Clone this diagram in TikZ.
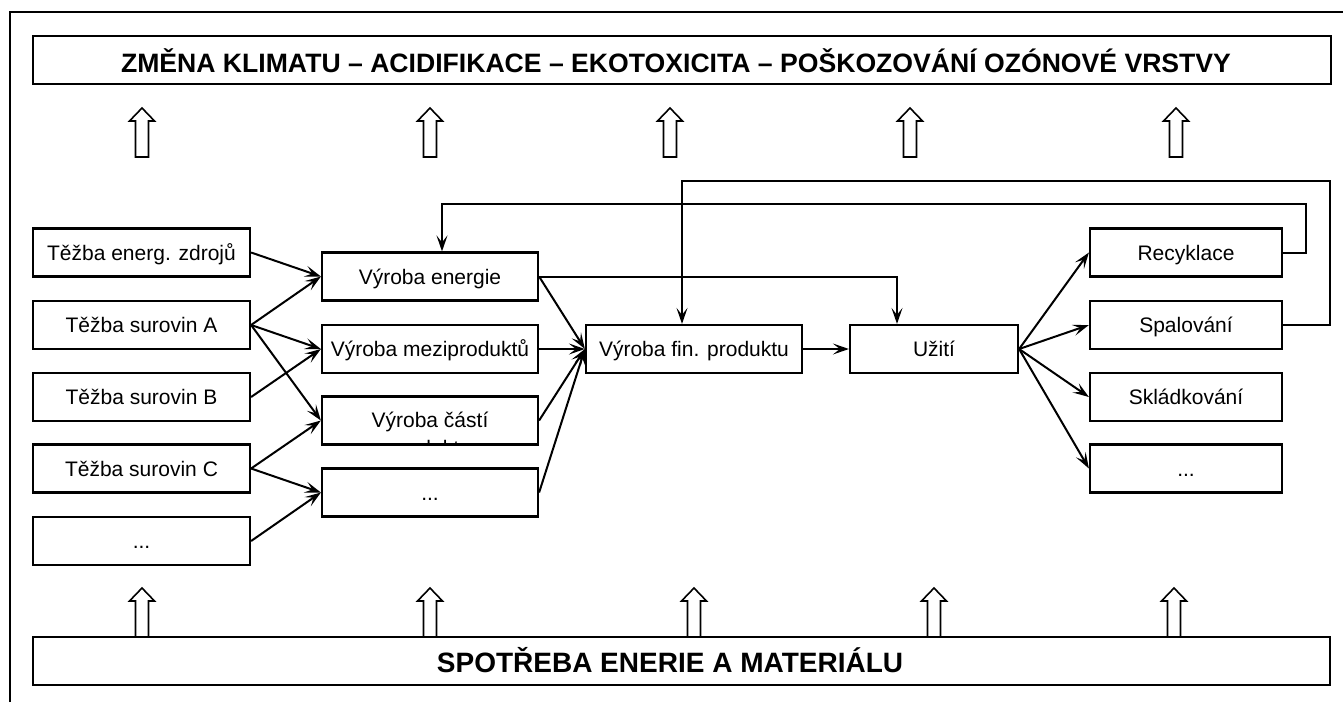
\documentclass[tikz,border=0pt]{standalone}
\usepackage{fontspec}
\setmainfont{Liberation Sans}
\usetikzlibrary{arrows.meta}
\begin{document}
\begin{tikzpicture}[x=1pt,y=-1pt,
  box/.style={draw,line width=2.2pt,minimum height=48pt,inner sep=0pt,text height=15pt,text depth=0pt,font=\fontsize{21}{25}\selectfont},
  lbox/.style={box,minimum width=217pt},
  mbox/.style={box,minimum width=216pt},
  rbox/.style={box,minimum width=192pt},
  bar/.style={draw,line width=2.2pt,minimum height=48pt,minimum width=1298pt,inner sep=0pt},
  bartext/.style={inner sep=0pt,text height=19pt,text depth=0pt,font=\fontsize{26.6}{30}\selectfont\bfseries},
  arr/.style={line width=2pt,-{Stealth[length=16pt,width=11pt,inset=7pt]}},
  hollowup/.pic={\draw[line width=1.6pt,fill=white] (-6.5,0) -- (-6.5,-36) -- (-12.5,-36) -- (0,-49) -- (12.5,-36) -- (6.5,-36) -- (6.5,0) -- cycle;}
]
\useasboundingbox (0,0) rectangle (1343,702);
% outer frame (cropped)
\draw[line width=1.8pt] (10,702) -- (10,12) -- (1343,12);

% bars
\node[bar] (top) at (682,60) {};
\node[bartext] (toptxt) at (676,62.5) {ZMĚNA KLIMATU – ACIDIFIKACE – EKOTOXICITA – POŠKOZOVÁNÍ OZÓNOVÉ VRSTVY};
\node[bar,minimum width=1297pt] (bot) at (681.5,661) {};
\node[bartext,font=\fontsize{28}{32}\selectfont\bfseries] (bottxt) at (670,663) {SPOTŘEBA ENERIE A MATERIÁLU};

% hollow arrows
\foreach \x in {142,430,670,910,1176} \pic at (\x,157) {hollowup};
\foreach \x in {142,430,694,934,1174} \pic at (\x,637) {hollowup};

% left column
\node[lbox] (l1) at (141.5,252.5) {Těžba energ. zdrojů};
\node[lbox] (l2) at (141.5,325) {Těžba surovin A};
\node[lbox] (l3) at (141.5,397) {Těžba surovin B};
\node[lbox] (l4) at (141.5,468.5) {Těžba surovin C};
\node[lbox] (l5) at (141.5,541) {...};

% middle column
\node[mbox] (m1) at (430,276.5) {Výroba energie};
\node[mbox] (m2) at (430,349) {Výroba meziproduktů};
\begin{scope}
  \clip (322,396.5) rectangle (538,444.5);
  \node[anchor=base,inner sep=0pt,font=\fontsize{21}{25}\selectfont] (m3a) at (430,427) {Výroba částí};
  \node[anchor=base,inner sep=0pt,font=\fontsize{21}{25}\selectfont] (m3b) at (430,455) {produktu};
\end{scope}
\node[mbox] (m3) at (430,420.5) {};
\node[mbox] (m4) at (430,492.5) {...};

% final product and use
\node[mbox] (fin) at (694,349) {Výroba fin. produktu};
\node[box,minimum width=168pt] (use) at (934,349) {Užití};

% right column
\node[rbox] (r1) at (1186,252.5) {Recyklace};
\node[rbox] (r2) at (1186,325) {Spalování};
\node[rbox] (r3) at (1186,397) {Skládkování};
\node[rbox] (r4) at (1186,468.5) {...};

% left -> middle
\draw[arr] (l1.east) -- (m1.west);
\draw[arr] (l2.east) -- (m1.west);
\draw[arr] (l2.east) -- (m2.west);
\draw[arr] (l2.east) -- (m3.west);
\draw[arr] (l3.east) -- (m2.west);
\draw[arr] (l4.east) -- (m3.west);
\draw[arr] (l4.east) -- (m4.west);
\draw[arr] (l5.east) -- (m4.west);

% middle -> final
\draw[arr] (m1.east) -- (fin.west);
\draw[arr] (m2.east) -- (fin.west);
\draw[arr] (m3.east) -- (fin.west);
\draw[arr] (m4.east) -- (fin.west);
\draw[arr] (fin.east) -- (use.west);
\draw[arr] (m1.east) -| ([xshift=-37pt]use.north);

% use -> end of life
\draw[arr] (use.east) -- (r1.west);
\draw[arr] (use.east) -- (r2.west);
\draw[arr] (use.east) -- (r3.west);
\draw[arr] (use.east) -- (r4.west);

% feedback loops
\coordinate (k1) at (1306,204);
\coordinate (k2) at (1330,181);
\draw[arr] (r1.east) -| (k1) -| ([xshift=12pt]m1.north);
\draw[arr] (r2.east) -| (k2) -| ([xshift=-12pt]fin.north);
\end{tikzpicture}
\end{document}
